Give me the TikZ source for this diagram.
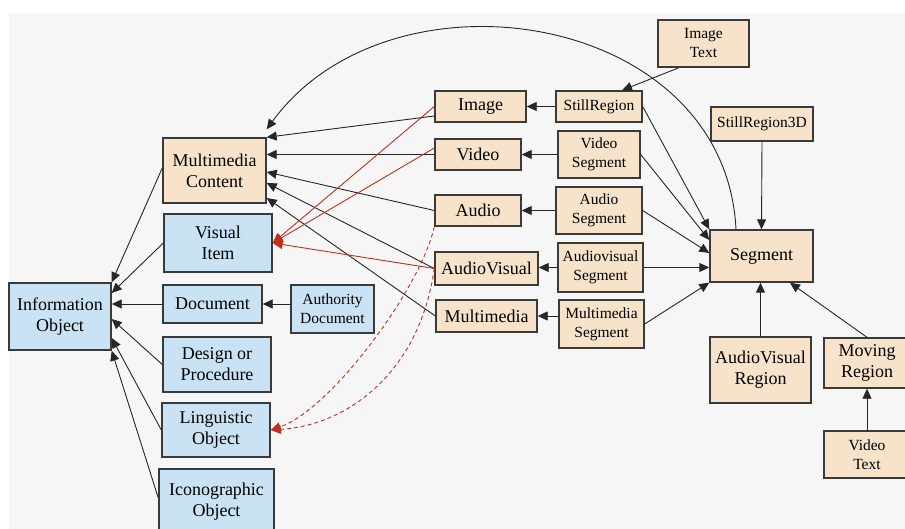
\documentclass[tikz,border=0pt]{standalone}
\usepackage{fontspec}
\setmainfont{Liberation Serif}
\usetikzlibrary{arrows.meta,calc}
\definecolor{bgc}{HTML}{F6F6F6}
\definecolor{tanc}{HTML}{F7E3CA}
\definecolor{bluec}{HTML}{C9E3F5}
\definecolor{edgec}{HTML}{3A3A3A}
\definecolor{redc}{HTML}{C0301C}
\begin{document}
\begin{tikzpicture}[x=1pt,y=-1pt,
 box/.style={draw=edgec,line width=1.4pt,inner sep=0pt,align=center},
 tanbox/.style={box,fill=tanc},
 bluebox/.style={box,fill=bluec},
 big/.style={font=\fontsize{18}{21}\selectfont},
 small/.style={font=\fontsize{15.5}{19}\selectfont},
 arr/.style={draw=black!85,line width=0.9pt,-{Triangle[length=10pt,width=9pt]}},
 rarr/.style={draw=redc,line width=0.9pt,-{Triangle[length=10pt,width=9pt]}},
 rdash/.style={rarr,dash pattern=on 4pt off 3pt}
]
\useasboundingbox (0,0) rectangle (905,529);
\fill[white] (0,0) rectangle (905,529);
\fill[bgc] (9,13) rectangle (905,529);

% tan nodes
\node[tanbox,big,minimum width=103pt,minimum height=65pt] (MC) at (214.5,170.5) {Multimedia\\Content};
\node[tanbox,small,minimum width=91pt,minimum height=47pt] (IT) at (703.5,43.5) {Image\\Text};
\node[tanbox,big,minimum width=91pt,minimum height=31pt] (Image) at (480.5,106.5) {Image};
\node[tanbox,small,minimum width=86pt,minimum height=31pt] (SR) at (599,106.5) {StillRegion};
\node[tanbox,small,minimum width=102pt,minimum height=34pt] (SR3) at (762,124) {StillRegion3D};
\node[tanbox,big,minimum width=86pt,minimum height=31pt] (Video) at (478,154.5) {Video};
\node[tanbox,small,minimum width=82pt,minimum height=47pt] (VS) at (599,154.5) {Video\\Segment};
\node[tanbox,big,minimum width=86pt,minimum height=31pt] (Audio) at (478,210.5) {Audio};
\node[tanbox,small,minimum width=86pt,minimum height=47pt] (AS) at (599,210.5) {Audio\\Segment};
\node[tanbox,big,minimum width=103pt,minimum height=52pt] (Seg) at (761.5,256) {Segment};
\node[tanbox,big,minimum width=103pt,minimum height=33pt] (AV) at (486.5,268.5) {AudioVisual};
\node[tanbox,small,minimum width=85pt,minimum height=49pt] (AVS) at (600.5,267.5) {Audiovisual\\Segment};
\node[tanbox,big,minimum width=101pt,minimum height=32pt] (MM) at (486.5,316) {Multimedia};
\node[tanbox,small,minimum width=85pt,minimum height=48pt] (MMS) at (601.5,324) {Multimedia\\Segment};
\node[tanbox,big,minimum width=101pt,minimum height=66pt] (AVR) at (760.5,370) {AudioVisual\\Region};
\node[tanbox,big,minimum width=86pt,minimum height=50pt] (MR) at (867,363) {Moving\\Region};
\node[tanbox,small,minimum width=86pt,minimum height=47pt] (VT) at (867,454.5) {Video\\Text};

% blue nodes
\node[bluebox,big,minimum width=108pt,minimum height=58pt] (VI) at (218,243) {Visual\\Item};
\node[bluebox,big,minimum width=102pt,minimum height=67pt] (IO) at (60,316.5) {Information\\Object};
\node[bluebox,big,minimum width=99pt,minimum height=38pt] (Doc) at (212.5,304) {Document};
\node[bluebox,small,minimum width=83pt,minimum height=48pt] (AD) at (332.5,309) {Authority\\Document};
\node[bluebox,big,minimum width=108pt,minimum height=55pt] (DP) at (217,364.5) {Design or\\Procedure};
\node[bluebox,big,minimum width=108pt,minimum height=54pt] (LO) at (216,430) {Linguistic\\Object};
\node[bluebox,big,minimum width=115pt,minimum height=66pt] (IcO) at (216.5,502) {Iconographic\\Object};

% edges to Information Object
\draw[arr] ([yshift=2.5pt]MC.west) -- (IO.north east);
\draw[arr] (VI.west) -- ([yshift=23.5pt]IO.east);
\draw[arr] (Doc.west) -- (Doc.west -| IO.east);
\draw[arr] (DP.west) -- ([yshift=-2.5pt]IO.east);
\draw[arr] (LO.west) -- ([yshift=-21.5pt]IO.east);
\draw[arr] ([yshift=4pt]IcO.west) -- (IO.south east);
\draw[arr] (AD.west |- Doc.east) -- (Doc.east);

% edges to Multimedia Content
\draw[arr] ([yshift=-9.5pt]Image.west) -- (MC.north east);
\draw[arr] (Video.west) -- (Video.west -| MC.east);
\draw[arr] (Audio.west) -- ([yshift=-1.5pt]MC.east);
\draw[arr] (AV.west) -- ([yshift=-12.5pt]MC.east);
\draw[arr] (MM.west) -- ([yshift=-27.5pt]MC.east);
\draw[arr] ([xshift=-25.5pt]Seg.north) .. controls (725,10) and (390,-40) .. ([yshift=8pt]MC.north east);

% segment edges
\draw[arr] (SR.west) -- (Image.east);
\draw[arr] (VS.west) -- (Video.east);
\draw[arr] (AS.west) -- (Audio.east);
\draw[arr] (AVS.west) -- (AVS.west -| AV.east);
\draw[arr] (MMS.west |- MM.east) -- (MM.east);
\draw[arr] ([xshift=-24.5pt]IT.south) -- ([xshift=23pt]SR.north);
\draw[arr] (SR.east) -- (Seg.north west);
\draw[arr] (VS.east) -- ([yshift=16pt]Seg.west);
\draw[arr] (AS.east) -- ([yshift=3pt]Seg.west);
\draw[arr] (AVS.east) -- (AVS.east -| Seg.west);
\draw[arr] (MMS.east) -- (Seg.south west);
\draw[arr] (SR3.south) -- (Seg.north);
\draw[arr] (AVR.north) -- (AVR.north |- Seg.south);
\draw[arr] (MR.north) -- ([xshift=28.5pt]Seg.south);
\draw[arr] (VT.north) -- (MR.south);

% red edges
\draw[rarr] (Image.west) -- (VI.east);
\draw[rarr] ([yshift=6.5pt]Video.west) -- (VI.east);
\draw[rarr] (AV.west) -- (VI.east);
\draw[rdash] (Audio.south west) .. controls (420,290) and (330,410) .. (LO.east);
\draw[rdash] (AV.west) .. controls (420,370) and (350,425) .. (LO.east);
\end{tikzpicture}
\end{document}
